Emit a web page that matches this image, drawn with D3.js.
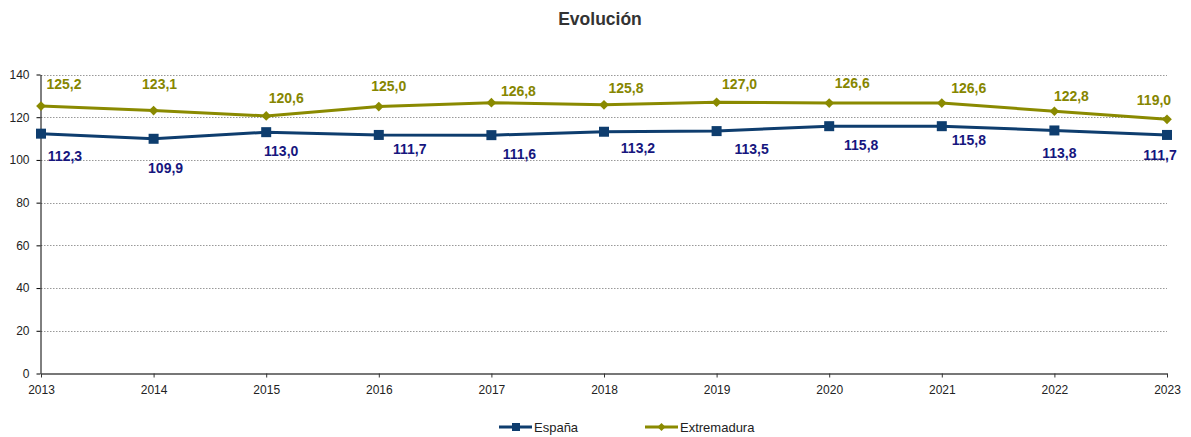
<!DOCTYPE html>
<html><head>
<meta charset="utf-8">
<script src="https://cdn.jsdelivr.net/npm/d3@7"></script>
<style>
  body { margin: 0; background: #fff; }
  text { font-family: "Liberation Sans", Arial, sans-serif; }
  line.grid { stroke: #999; stroke-width: 1px; stroke-dasharray: 1.5 1.5; }
</style>
</head>
<body>
<svg id="chart" width="1191" height="437"></svg>
<script>
// data
const years = [2013, 2014, 2015, 2016, 2017, 2018, 2019, 2020, 2021, 2022, 2023];
const espana = [112.3, 109.9, 113.0, 111.7, 111.6, 113.2, 113.5, 115.8, 115.8, 113.8, 111.7];
const extremadura = [125.2, 123.1, 120.6, 125.0, 126.8, 125.8, 127.0, 126.6, 126.6, 122.8, 119.0];
const yTicks = [0, 20, 40, 60, 80, 100, 120, 140];

// label nudges (px, relative to the point) -- labels were hand placed in the original
const espanaNudge = [[24, 27], [12, 34], [15, 24], [31, 19], [28, 24], [34, 21], [35, 23], [32, 24], [27, 19], [5, 28], [-7, 25]];
const extreNudge = [[23, -17], [6, -22], [20, -13], [10, -16], [27, -7], [22, -12], [23, -13], [23, -15], [27, -10], [17, -10], [-13, -14]];

const svg = d3.select("#chart");
const plotL = 41, plotR = 1167, plotT = 74.5, plotB = 373.5;

const x = d3.scalePoint().domain(years).range([plotL, plotR]);
const y = d3.scaleLinear().domain([0, 140]).range([plotB, plotT]);

const fmt = v => d3.format(".1f")(v).replace(".", ",");

// title
svg.append("text").attr("x", 600).attr("y", 25).attr("text-anchor", "middle")
  .attr("font-size", 17.5).attr("font-weight", "bold").attr("fill", "#333").text("Evolución");

// gridlines
svg.append("g").selectAll("line").data(yTicks.filter(d => d > 0)).join("line")
  .attr("class", "grid")
  .attr("x1", plotL).attr("x2", plotR)
  .attr("y1", d => Math.round(y(d)) + 0.5).attr("y2", d => Math.round(y(d)) + 0.5);

// y axis
const yAxis = svg.append("g").attr("transform", `translate(${plotL - 0.5},0)`)
  .call(d3.axisLeft(y).tickValues(yTicks).tickSize(4).tickSizeOuter(0).tickFormat(d3.format("d")));
yAxis.select(".domain").attr("stroke", "#000");
yAxis.selectAll(".tick line").attr("stroke", "#000");
yAxis.selectAll(".tick text").attr("font-size", 12).attr("fill", "#222")
  .attr("font-family", "Liberation Sans, Arial, sans-serif").attr("x", -11);

// x axis
const xAxis = svg.append("g").attr("transform", `translate(0,${plotB})`)
  .call(d3.axisBottom(x).tickSize(4).tickSizeOuter(0));
xAxis.select(".domain").attr("stroke", "#777").attr("stroke-width", 2);
xAxis.selectAll(".tick line").attr("stroke", "#333");
xAxis.selectAll(".tick text").attr("font-size", 12).attr("fill", "#222")
  .attr("font-family", "Liberation Sans, Arial, sans-serif").attr("y", 12);

const line = d3.line().x((d, i) => x(years[i])).y(d => y(d));

// series
const series = [
  { name: "España", values: espana, nudge: espanaNudge, stroke: "#0e3d6e", label: "#16167e", marker: "square" },
  { name: "Extremadura", values: extremadura, nudge: extreNudge, stroke: "#8a8a00", label: "#868600", marker: "diamond" }
];

series.forEach(s => {
  const g = svg.append("g");
  g.append("path").datum(s.values).attr("d", line)
    .attr("fill", "none").attr("stroke", s.stroke).attr("stroke-width", 3);
  if (s.marker === "square") {
    g.selectAll("rect").data(s.values).join("rect")
      .attr("x", (d, i) => x(years[i]) - 5).attr("y", d => y(d) - 5)
      .attr("width", 10).attr("height", 10).attr("fill", s.stroke);
  } else {
    g.selectAll("path.m").data(s.values).join("path").attr("class", "m")
      .attr("d", d3.symbol(d3.symbolDiamond2, 60))
      .attr("transform", (d, i) => `translate(${x(years[i])},${y(d)})`)
      .attr("fill", s.stroke);
  }
  g.selectAll("text").data(s.values).join("text")
    .attr("x", (d, i) => x(years[i]) + s.nudge[i][0])
    .attr("y", (d, i) => y(d) + s.nudge[i][1])
    .attr("text-anchor", "middle").attr("font-size", 14).attr("font-weight", "bold")
    .attr("fill", s.label).text(fmt);
});

// legend
const legend = [
  { name: "España", stroke: "#0e3d6e", marker: "square", x: 499 },
  { name: "Extremadura", stroke: "#8a8a00", marker: "diamond", x: 645 }
];
legend.forEach(l => {
  const g = svg.append("g").attr("transform", `translate(${l.x},427)`);
  g.append("line").attr("x1", 0).attr("x2", 33).attr("stroke", l.stroke).attr("stroke-width", 3);
  if (l.marker === "square") {
    g.append("rect").attr("x", 13).attr("y", -4).attr("width", 8).attr("height", 8).attr("fill", l.stroke);
  } else {
    g.append("path").attr("d", d3.symbol(d3.symbolDiamond2, 40)).attr("transform", "translate(16.5,0)").attr("fill", l.stroke);
  }
  g.append("text").attr("x", 35).attr("y", 5).attr("font-size", 13).attr("fill", "#222").text(l.name);
});
</script>
</body></html>
